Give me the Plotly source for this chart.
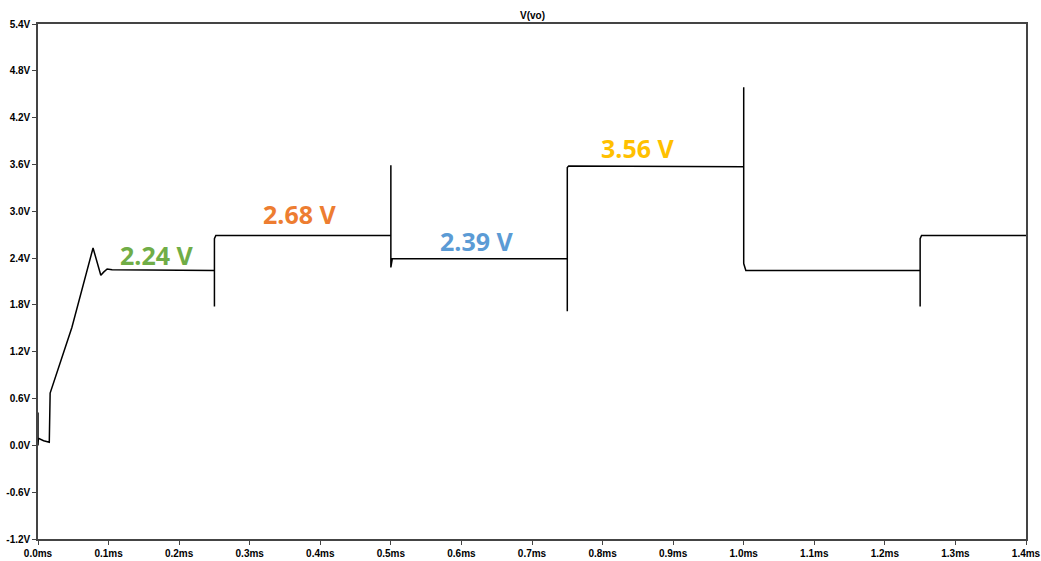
import plotly.graph_objects as go

# waveform V(vo): time in ms, voltage in V
time_ms = [0.0, 0.0, 0.0005, 0.008, 0.016, 0.0172, 0.031, 0.048, 0.078, 0.089, 0.093, 0.098, 0.105,
           0.25, 0.25, 0.25, 0.252, 0.5, 0.5, 0.5, 0.502, 0.75, 0.75, 0.75, 0.752,
           1.0, 1.0, 1.0, 1.003, 1.25, 1.25, 1.25, 1.252, 1.4]
volts = [0.42, 0.0, 0.09, 0.06, 0.04, 0.67, 1.06, 1.51, 2.53, 2.18, 2.22, 2.26, 2.25,
         2.24, 1.78, 2.65, 2.69, 2.69, 3.59, 2.28, 2.39, 2.39, 1.72, 3.56, 3.58,
         3.57, 4.59, 2.33, 2.24, 2.24, 1.78, 2.65, 2.69, 2.69]

# annotations
label_text = ["2.24 V", "2.68 V", "2.39 V", "3.56 V"]
label_x = [0.169, 0.371, 0.622, 0.850]
label_y = [2.44, 2.97, 2.62, 3.81]
label_color = ["#70AD47", "#ED7D31", "#5B9BD5", "#FFC000"]

# ticks
x_ticks = [i / 10 for i in range(15)]
x_tick_text = [f"{v:.1f}ms" for v in x_ticks]
y_ticks = [-1.2, -0.6, 0.0, 0.6, 1.2, 1.8, 2.4, 3.0, 3.6, 4.2, 4.8, 5.4]
y_tick_text = [f"{v:.1f}V" for v in y_ticks]

font_narrow = "Liberation Sans Narrow, Arial Narrow, Liberation Sans, sans-serif"

fig = go.Figure()
fig.add_trace(go.Scatter(x=time_ms, y=volts, mode="lines",
                         line=dict(color="black", width=1.5), showlegend=False,
                         hoverinfo="skip"))

for t, x, y, c in zip(label_text, label_x, label_y, label_color):
    fig.add_annotation(x=x, y=y, text=t, showarrow=False,
                       font=dict(family="Open Sans, Liberation Sans, sans-serif", size=25,
                                 color=c, weight="bold"))

fig.add_annotation(x=0.5, y=1.0, xref="paper", yref="paper", yanchor="bottom",
                   text="V(vo)", showarrow=False, yshift=1,
                   font=dict(family=font_narrow, size=10, color="black", weight="bold"))

axis_common = dict(showgrid=False, zeroline=False, showline=True, mirror=True,
                   linecolor="#444", linewidth=1.5, ticks="outside", ticklen=4,
                   tickcolor="#444", automargin=False,
                   tickfont=dict(family=font_narrow, size=10, color="black", weight="bold"))

fig.update_layout(
    width=1041, height=561,
    margin=dict(l=38, r=15, t=24, b=22, autoexpand=False),
    paper_bgcolor="white", plot_bgcolor="white",
    xaxis=dict(range=[0, 1.4], tickvals=x_ticks, ticktext=x_tick_text, **axis_common),
    yaxis=dict(range=[-1.2, 5.4], tickvals=y_ticks, ticktext=y_tick_text,
               ticklabelstandoff=0, **axis_common),
)

fig.write_html("out.html", config={"displayModeBar": False},
               post_script="document.body.style.margin='0';document.body.style.overflow='hidden';")
